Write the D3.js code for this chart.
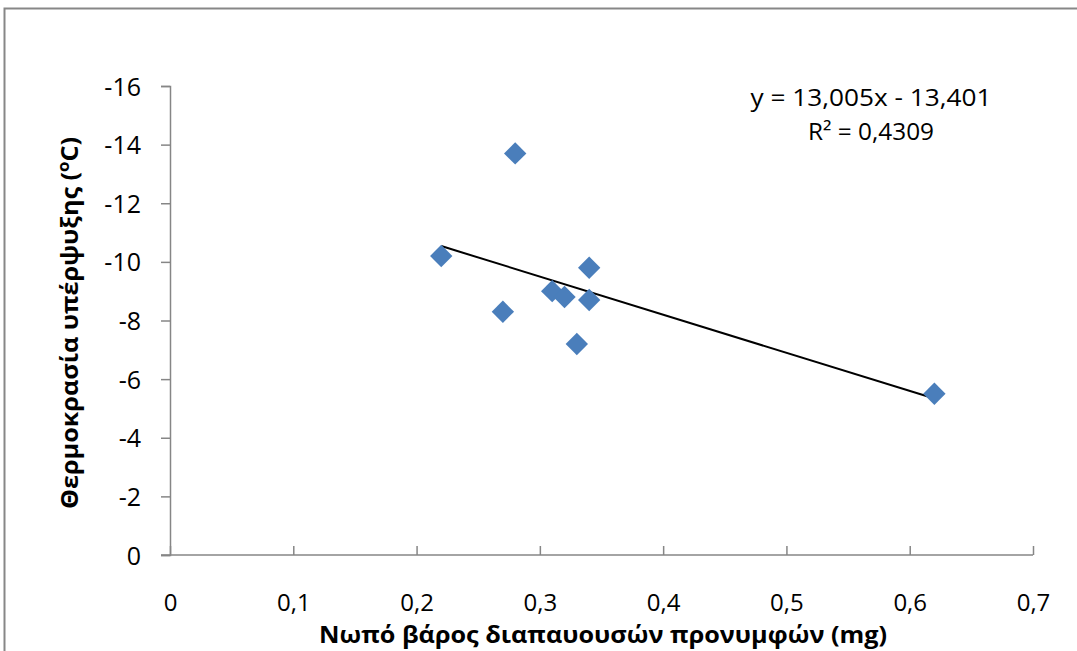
<!DOCTYPE html>
<html><head><meta charset="utf-8">
<script src="https://cdn.jsdelivr.net/npm/d3@7"></script>
<style>body{margin:0;background:#fff}svg{display:block}</style>
</head><body>
<script>
const weights = [0.22, 0.28, 0.27, 0.31, 0.32, 0.34, 0.34, 0.33, 0.62];
const temps = [-10.2, -13.7, -8.3, -9.0, -8.8, -9.8, -8.7, -7.2, -5.5];
const xTicks = [0, 0.1, 0.2, 0.3, 0.4, 0.5, 0.6, 0.7];
const yTicks = [0, -2, -4, -6, -8, -10, -12, -14, -16];
const trendCoef = [13.005, -13.401];
const eqLabel = "y = 13,005x - 13,401";
const r2Label = "R² = 0,4309";
const xTitle = "Νωπό βάρος διαπαυουσών προνυμφών  (mg)";
const yTitle = "Θερμοκρασία υπέρψυξης (";

const W = 1077, H = 651;
const svg = d3.select("body").append("svg").attr("width", W).attr("height", H);
const font = "'Open Sans', 'Liberation Sans', Arial, sans-serif";

svg.append("rect").attr("x", 4.5).attr("y", 8.5).attr("width", 1200).attr("height", 800)
  .attr("fill", "none").attr("stroke", "#878787").attr("stroke-width", 2);

const x = d3.scaleLinear().domain([0, 0.7]).range([170, 1033]);
const y = d3.scaleLinear().domain([0, -16]).range([555, 86]);
const axisColor = "#868686";

const gy = svg.append("g").attr("transform", "translate(170,0)")
  .call(d3.axisLeft(y).tickValues(yTicks).tickSize(9).tickPadding(20).tickFormat(d => String(d)));
const gx = svg.append("g").attr("transform", "translate(0,555)")
  .call(d3.axisBottom(x).tickValues(xTicks).tickSize(-9).tickPadding(0)
    .tickFormat(d => String(d).replace(".", ",")));
[gx, gy].forEach(g => {
  g.select(".domain").attr("stroke", axisColor).attr("stroke-width", 1.5);
  g.selectAll(".tick line").attr("stroke", axisColor).attr("stroke-width", 1.5);
  g.selectAll("text").attr("fill", "#000").attr("font-family", font).attr("font-size", 25);
});
gx.select(".domain").attr("d", "M161,0H1033");
gx.selectAll(".tick text").attr("y", 56).attr("dy", 0).attr("font-size", 24);
gy.selectAll(".tick text").attr("dy", "0.36em");

const xmin = d3.min(weights), xmax = d3.max(weights);
svg.append("line")
  .attr("x1", x(xmin)).attr("y1", y(trendCoef[0] * xmin + trendCoef[1]))
  .attr("x2", x(xmax)).attr("y2", y(trendCoef[0] * xmax + trendCoef[1]))
  .attr("stroke", "#000").attr("stroke-width", 2);

const pts = weights.map((w, i) => [w, temps[i]]);
svg.append("g").selectAll("path").data(pts).join("path")
  .attr("transform", d => `translate(${x(d[0])},${y(d[1])}) rotate(45)`)
  .attr("d", d3.symbol().type(d3.symbolSquare).size(250))
  .attr("fill", "#4a7ebb");

svg.append("text").attr("x", 871).attr("y", 106).attr("text-anchor", "middle")
  .attr("font-family", font).attr("font-size", 23).attr("textLength", 241).attr("lengthAdjust", "spacingAndGlyphs").text(eqLabel);
svg.append("text").attr("x", 871).attr("y", 140).attr("text-anchor", "middle")
  .attr("font-family", font).attr("font-size", 23).attr("textLength", 126).attr("lengthAdjust", "spacingAndGlyphs").text(r2Label);

svg.append("text").attr("x", 603).attr("y", 643).attr("text-anchor", "middle")
  .attr("font-family", font).attr("font-weight", "bold").attr("font-size", 23)
  .attr("textLength", 568).attr("lengthAdjust", "spacingAndGlyphs").text(xTitle);
const yt = svg.append("text").attr("transform", "translate(78,323) rotate(-90)").attr("text-anchor", "middle")
  .attr("font-family", font).attr("font-weight", "bold").attr("font-size", 24)
  .attr("textLength", 372).attr("lengthAdjust", "spacingAndGlyphs");
yt.append("tspan").text(yTitle);
yt.append("tspan").attr("font-size", 16).attr("dy", -9).text("o");
yt.append("tspan").attr("dy", 9).text("C)");
</script>
</body></html>
